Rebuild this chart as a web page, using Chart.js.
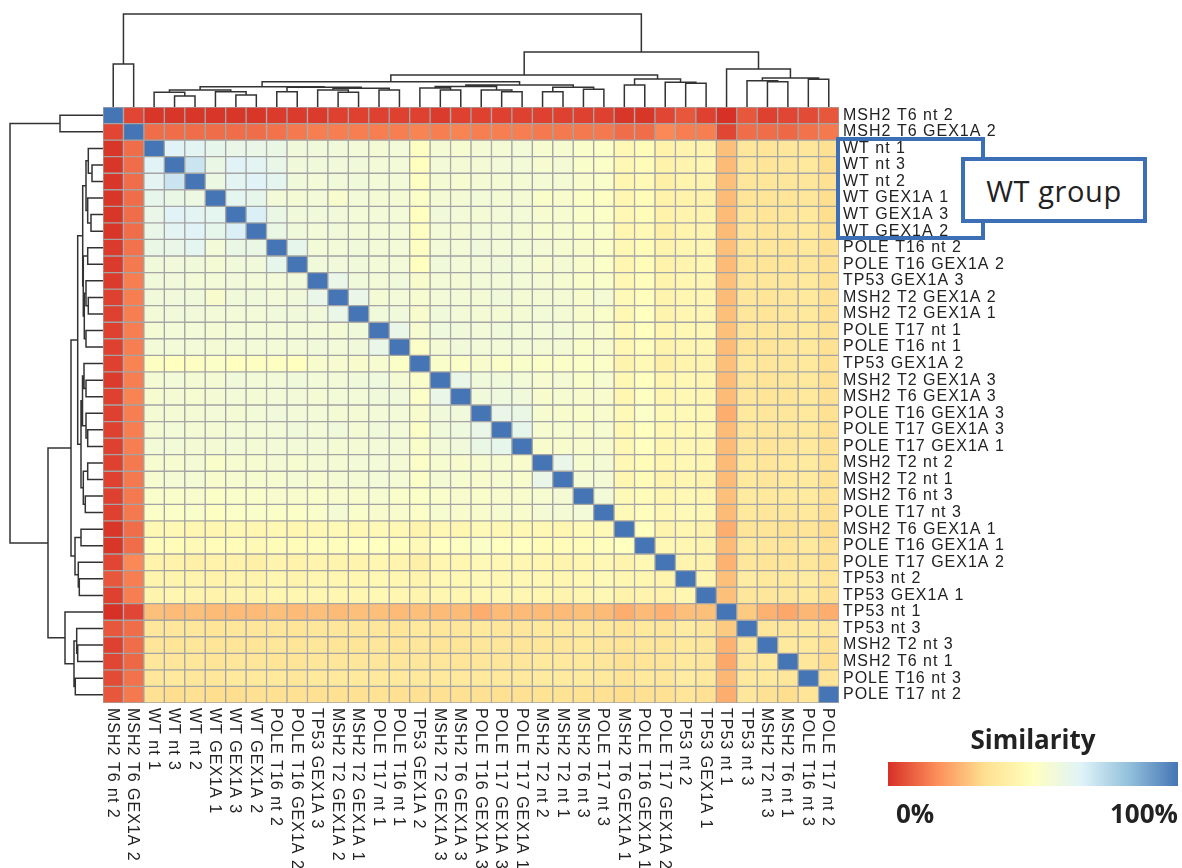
<!DOCTYPE html>
<html>
<head>
<meta charset="utf-8">
<script src="https://cdn.jsdelivr.net/npm/chart.js@4.4.0/dist/chart.umd.min.js"></script>
<style>
  body { margin: 0; background: #fff; }
  #wrap { position: relative; width: 1182px; height: 868px; overflow: hidden; font-family: "Open Sans", sans-serif; color: #222; }
  canvas { position: absolute; }
  #heat { left: 0; top: 0; }
  #dendTop { left: 103px; top: 0; }
  #dendLeft { left: 0; top: 107px; }
  .box { position: absolute; border: 4px solid #3d6fb6; box-sizing: border-box; }
  #wtBox { left: 961px; top: 157px; width: 186px; height: 66px; background: #fff;
           display: flex; align-items: center; justify-content: center; font-size: 29px; letter-spacing: 0.6px; }
  #legTitle { position: absolute; left: 888px; top: 724px; width: 290px; text-align: center; font-weight: bold; font-size: 26px; line-height: 1.2; }
  #legBar { position: absolute; left: 888px; top: 762px; width: 290px; height: 24px; }
  .legLab { position: absolute; top: 798px; font-weight: bold; font-size: 26px; line-height: 1.2; }
</style>
</head>
<body>
<div id="wrap">
  <canvas id="heat" width="1182" height="868"></canvas>
  <canvas id="dendTop" width="736" height="107"></canvas>
  <canvas id="dendLeft" width="103" height="596"></canvas>
  <div class="box" style="left:836px;top:137px;width:149px;height:103px;"></div>
  <div class="box" id="wtBox">WT group</div>
  <div id="legTitle">Similarity</div>
  <div id="legBar"></div>
  <div class="legLab" style="left:896px;">0%</div>
  <div class="legLab" style="right:4px;">100%</div>
</div>
<script>
// sample order (same for rows and columns)
const sampleNames = [
  'MSH2 T6 nt 2', 'MSH2 T6 GEX1A 2', 'WT nt 1', 'WT nt 3', 'WT nt 2', 'WT GEX1A 1',
  'WT GEX1A 3', 'WT GEX1A 2', 'POLE T16 nt 2', 'POLE T16 GEX1A 2', 'TP53 GEX1A 3', 'MSH2 T2 GEX1A 2',
  'MSH2 T2 GEX1A 1', 'POLE T17 nt 1', 'POLE T16 nt 1', 'TP53 GEX1A 2', 'MSH2 T2 GEX1A 3', 'MSH2 T6 GEX1A 3',
  'POLE T16 GEX1A 3', 'POLE T17 GEX1A 3', 'POLE T17 GEX1A 1', 'MSH2 T2 nt 2', 'MSH2 T2 nt 1', 'MSH2 T6 nt 3',
  'POLE T17 nt 3', 'MSH2 T6 GEX1A 1', 'POLE T16 GEX1A 1', 'POLE T17 GEX1A 2', 'TP53 nt 2', 'TP53 GEX1A 1',
  'TP53 nt 1', 'TP53 nt 3', 'MSH2 T2 nt 3', 'MSH2 T6 nt 1', 'POLE T16 nt 3', 'POLE T17 nt 2'
];

// similarity (%) - lower triangle, row i holds columns 0..i
const simLower = [
  [100],
  [4, 100],
  [1, 11, 100],
  [1, 11, 66, 100],
  [1, 11, 65, 71, 100],
  [1, 11, 63, 61, 60, 100],
  [1, 11, 62, 66, 65, 64, 100],
  [1, 11, 62, 65, 66, 63, 68, 100],
  [2, 12, 61, 62, 64, 57, 61, 61, 100],
  [2, 13, 58, 58, 58, 56, 58, 58, 63, 100],
  [2, 14, 58, 58, 57, 57, 58, 57, 57, 58, 100],
  [3, 14, 58, 58, 58, 54, 58, 58, 57, 58, 62, 100],
  [3, 14, 57, 58, 58, 57, 57, 57, 58, 58, 58, 62, 100],
  [3, 14, 56, 57, 57, 56, 57, 57, 57, 57, 57, 56, 58, 100],
  [3, 14, 57, 57, 57, 56, 57, 57, 57, 57, 58, 57, 58, 62, 100],
  [3, 15, 51, 50, 51, 52, 50, 51, 51, 50, 54, 55, 54, 55, 52, 100],
  [2, 14, 56, 57, 56, 56, 58, 57, 57, 58, 57, 57, 58, 59, 56, 53, 100],
  [3, 15, 55, 56, 55, 56, 57, 56, 57, 57, 56, 57, 57, 58, 58, 52, 62, 100],
  [3, 14, 56, 56, 56, 57, 56, 57, 58, 57, 57, 56, 56, 57, 57, 54, 58, 58, 100],
  [3, 14, 56, 57, 56, 56, 57, 57, 57, 58, 57, 58, 56, 58, 57, 52, 58, 59, 62, 100],
  [3, 14, 57, 57, 56, 56, 57, 56, 57, 57, 57, 56, 56, 57, 57, 53, 57, 58, 61, 63, 100],
  [3, 13, 55, 55, 56, 53, 55, 55, 56, 55, 56, 56, 57, 57, 56, 52, 55, 54, 55, 55, 54, 100],
  [3, 13, 55, 56, 56, 54, 55, 55, 55, 56, 55, 56, 56, 57, 56, 52, 56, 55, 54, 55, 54, 62, 100],
  [3, 13, 53, 53, 54, 52, 53, 53, 54, 54, 53, 54, 54, 55, 53, 52, 53, 54, 53, 54, 54, 55, 56, 100],
  [3, 13, 52, 52, 53, 51, 52, 53, 52, 52, 53, 56, 53, 54, 54, 52, 55, 54, 54, 55, 54, 56, 56, 57, 100],
  [1, 11, 46, 46, 45, 45, 46, 45, 46, 45, 46, 47, 46, 47, 46, 44, 46, 45, 47, 46, 46, 46, 45, 47, 47, 100],
  [1, 11, 48, 48, 47, 48, 48, 47, 48, 48, 49, 49, 50, 50, 49, 47, 50, 51, 52, 50, 50, 48, 48, 48, 49, 50, 100],
  [4, 16, 43, 43, 42, 43, 43, 42, 44, 43, 44, 44, 44, 45, 44, 42, 45, 45, 47, 46, 45, 45, 44, 45, 46, 44, 46, 100],
  [7, 14, 44, 44, 44, 43, 44, 44, 45, 44, 45, 45, 45, 46, 45, 44, 46, 46, 47, 46, 46, 46, 45, 46, 47, 45, 45, 44, 100],
  [3, 14, 44, 45, 44, 43, 44, 44, 45, 45, 45, 45, 45, 46, 45, 44, 45, 45, 46, 46, 45, 45, 44, 45, 46, 43, 44, 43, 45, 100],
  [0, 4, 27, 26, 27, 26, 26, 26, 27, 26, 27, 26, 27, 27, 26, 27, 26, 26, 23, 26, 26, 26, 26, 27, 26, 23, 26, 24, 27, 27, 100],
  [7, 11, 37, 37, 37, 36, 37, 37, 37, 36, 37, 37, 37, 37, 36, 38, 37, 37, 38, 37, 37, 38, 38, 39, 38, 36, 38, 37, 40, 37, 29, 100],
  [3, 11, 36, 36, 37, 36, 36, 36, 37, 36, 37, 36, 36, 37, 36, 37, 36, 36, 37, 37, 36, 37, 37, 38, 37, 36, 37, 36, 38, 37, 24, 37, 100],
  [4, 10, 37, 37, 37, 36, 37, 37, 36, 36, 37, 37, 37, 37, 37, 37, 37, 36, 37, 37, 37, 38, 38, 38, 37, 35, 36, 36, 38, 37, 22, 37, 38, 100],
  [5, 12, 37, 38, 37, 37, 38, 38, 38, 37, 38, 38, 38, 38, 38, 38, 38, 38, 38, 38, 38, 39, 39, 39, 38, 36, 38, 37, 40, 38, 25, 38, 38, 37, 100],
  [7, 13, 34, 33, 34, 33, 33, 34, 34, 34, 34, 34, 34, 35, 34, 34, 34, 34, 34, 34, 34, 35, 35, 35, 34, 33, 34, 34, 36, 34, 23, 37, 34, 33, 36, 100]
];

// pheatmap default colours (rev RdYlBu, 7 steps), 0% -> 100%
const palette = ['#d73027', '#fc8d59', '#fee090', '#ffffbf', '#e0f3f8', '#91bfdb', '#4575b4'];

// dendrogram: [left, right, height]; numbers are leaf positions
const treeWT = [[2, [3, 4, 11], 14.7], [5, [6, 7, 12], 15.3], 17];
const treeX = [[8, 9, 15.3], [[10, [11, 12, 14.7], 17], [13, 14, 17], 18.7], 19.7];
const treeZ = [[15, [16, 17, 17], 19], [18, [19, 20, 15.3], 17], 20.5];
const treeV = [[21, 22, 15.3], [23, 24, 17.7], 19.7];
const treeM = [[25, 26, 22], [27, [28, 29, 23.7], 24.7], 28];
const treeC = [[31, [32, 33, 25.3], 26.3], [34, 35, 27.7], 29];
const sampleTree = [
  [0, 1, 43],
  [[[[treeWT, treeX, 20.3], [treeZ, treeV, 22], 25.3], treeM, 32], [30, treeC, 38], 55],
  93
];

// ---------------------------------------------------------------
const simMatrix = sampleNames.map((_, i) => sampleNames.map((_, j) => (j <= i ? simLower[i][j] : simLower[j][i])));

function hexToRgb(h) {
  return [1, 3, 5].map(k => parseInt(h.substr(k, 2), 16));
}
function cellColor(v) {
  const t = Math.max(0, Math.min(1, v / 100)) * (palette.length - 1);
  const i = Math.min(palette.length - 2, Math.floor(t));
  const f = t - i;
  const a = hexToRgb(palette[i]), b = hexToRgb(palette[i + 1]);
  const c = a.map((x, k) => Math.round(x + (b[k] - x) * f));
  return 'rgb(' + c.join(',') + ')';
}

document.getElementById('legBar').style.background = 'linear-gradient(to right, ' + palette.join(', ') + ')';

const labelFont = '16px "Liberation Sans", Arial, sans-serif';

// a little tracking on the label text, like the original
const labelSpacing = {
  id: 'labelSpacing',
  beforeDraw(chart) { chart.ctx.letterSpacing = '1px'; }
};

// column labels, rotated to read downwards
const colLabels = {
  id: 'colLabels',
  afterDraw(chart) {
    const ctx = chart.ctx;
    const x = chart.scales.x;
    ctx.save();
    ctx.font = labelFont;
    ctx.letterSpacing = '1px';
    ctx.fillStyle = '#222';
    ctx.textAlign = 'left';
    ctx.textBaseline = 'middle';
    sampleNames.forEach((name, i) => {
      ctx.save();
      ctx.translate(x.getPixelForValue(i) - 1, chart.chartArea.bottom + 5);
      ctx.rotate(Math.PI / 2);
      ctx.fillText(name, 0, 0);
      ctx.restore();
    });
    ctx.restore();
  }
};

const heatData = {
  labels: sampleNames,
  datasets: simMatrix.map((row, i) => ({
    label: sampleNames[i],
    data: sampleNames.map(() => 1),
    backgroundColor: row.map(cellColor),
    borderColor: '#a4a4a4',
    borderWidth: 1,
    borderSkipped: false,
    barPercentage: 1,
    categoryPercentage: 1
  }))
};

const heatChart = new Chart(document.getElementById('heat'), {
  type: 'bar',
  data: heatData,
  options: {
    responsive: false,
    animation: false,
    layout: { padding: { left: 103, top: 107, right: 3, bottom: 0 } },
    plugins: { legend: { display: false }, tooltip: { enabled: false } },
    scales: {
      x: {
        stacked: true,
        grid: { display: false },
        border: { display: false },
        ticks: { display: false },
        afterFit: s => { s.height = 165; }
      },
      y: {
        type: 'linear',
        stacked: true,
        reverse: true,
        min: 0,
        max: 36,
        position: 'right',
        grid: { display: false, drawTicks: false },
        border: { display: false },
        afterBuildTicks: s => { s.ticks = sampleNames.map((_, i) => ({ value: i + 0.5 })); },
        ticks: {
          autoSkip: false,
          padding: 4,
          color: '#222',
          font: { family: '"Liberation Sans", Arial, sans-serif', size: 16 },
          callback: v => sampleNames[Math.floor(v)]
        },
        afterFit: s => { s.width = 340; }
      }
    }
  },
  plugins: [labelSpacing, colLabels]
});

// dendrogram segments
function treeSegments(node, segs) {
  if (typeof node === 'number') return { pos: node + 0.5, h: 0 };
  const a = treeSegments(node[0], segs);
  const b = treeSegments(node[1], segs);
  const h = node[2];
  segs.push({ x: a.pos, y: a.h }, { x: a.pos, y: h }, { x: b.pos, y: h }, { x: b.pos, y: b.h }, { x: NaN, y: NaN });
  return { pos: (a.pos + b.pos) / 2, h: h };
}
const dendSegs = [];
treeSegments(sampleTree, dendSegs);

const lineStyle = {
  showLine: true,
  pointRadius: 0,
  borderColor: '#333',
  borderWidth: 1.5,
  spanGaps: false,
  clip: false
};

const dendTop = new Chart(document.getElementById('dendTop'), {
  type: 'scatter',
  data: { datasets: [Object.assign({ data: dendSegs }, lineStyle)] },
  options: {
    responsive: false,
    animation: false,
    plugins: { legend: { display: false }, tooltip: { enabled: false } },
    scales: {
      x: { type: 'linear', min: 0, max: 36, display: false },
      y: { type: 'linear', min: 0, max: 107, display: false }
    }
  }
});

const dendLeft = new Chart(document.getElementById('dendLeft'), {
  type: 'scatter',
  data: { datasets: [Object.assign({ data: dendSegs.map(p => ({ x: p.y, y: p.x })) }, lineStyle)] },
  options: {
    responsive: false,
    animation: false,
    plugins: { legend: { display: false }, tooltip: { enabled: false } },
    scales: {
      x: { type: 'linear', min: 0, max: 103, reverse: true, display: false },
      y: { type: 'linear', min: 0, max: 36, reverse: true, display: false }
    }
  }
});
</script>
</body>
</html>
